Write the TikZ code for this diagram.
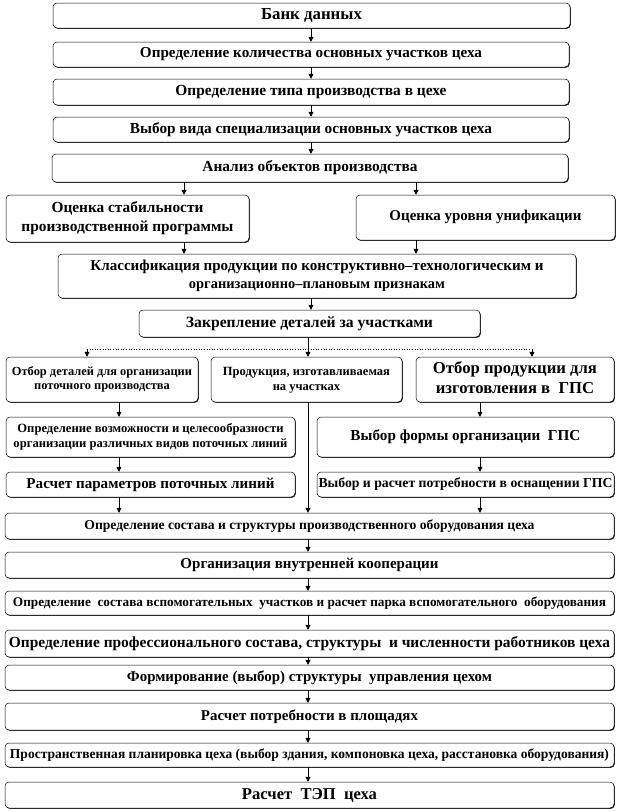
\documentclass[tikz,border=0pt]{standalone}
\usepackage{graphicx}
\usepackage{fontspec}
\setmainfont{Liberation Serif}
\usetikzlibrary{arrows.meta,shadows}
\newcommand{\fw}[3][1]{\scalebox{1}[#1]{\resizebox{#2pt}{!}{#3}}}
\newcommand{\tb}[1]{\begin{tabular}{@{}c@{}}#1\end{tabular}}
\begin{document}
\begin{tikzpicture}[x=1pt,y=-1pt,font=\bfseries,
  box/.style={draw=black,line width=0.5pt,rounded corners=4pt,fill=white,inner sep=0pt,
    drop shadow={shadow xshift=0.8pt,shadow yshift=-0.8pt,fill=black,opacity=0.85}},
  arr/.style={-{Triangle[length=5pt,width=5pt]},line width=0.6pt},
  ln/.style={line width=0.6pt}]
\fill[white] (0,0) rectangle (618,812);
\useasboundingbox (0,0) rectangle (618,812);

% column coordinates
\coordinate (xm) at (311,0);
\coordinate (xa) at (184,0);
\coordinate (xb) at (416,0);
\coordinate (xl) at (119,0);
\coordinate (xr) at (480,0);
\coordinate (xd1) at (87,0);
\coordinate (xd2) at (532,0);
\coordinate (xc) at (308,0);
\coordinate (j) at (308,349);

\node[box,minimum width=517pt,minimum height=25pt] (b1) at (311.5,15.5) {\fw{101}{Банк данных}};
\node[box,minimum width=516pt,minimum height=25pt] (b2) at (311,54.5) {\fw{342}{Определение количества основных участков цеха}};
\node[box,minimum width=516pt,minimum height=26pt] (b3) at (311,92) {\fw{271}{Определение типа производства в цехе}};
\node[box,minimum width=516pt,minimum height=25pt] (b4) at (311,129.5) {\fw{362}{Выбор вида специализации основных участков цеха}};
\node[box,minimum width=516pt,minimum height=28pt] (b5) at (310,168) {\fw{215}{Анализ объектов производства}};
\node[box,minimum width=243pt,minimum height=47pt] (b6) at (127.5,218.5) {\fw{212}{\tb{Оценка стабильности\\производственной программы}}};
\node[box,minimum width=259pt,minimum height=45pt] (b7) at (485.5,217.5) {\raisebox{5pt}{\fw{192}{Оценка уровня унификации}}};
\node[box,minimum width=518pt,minimum height=44pt] (b8) at (317,276) {\tb{\fw{453}{Классификация продукции по конструктивно–технологическим и}\\[6pt]\fw{256}{организационно–плановым признакам}}};
\node[box,minimum width=341pt,minimum height=27pt] (b9) at (309.5,323.5) {\fw{247}{Закрепление деталей за участками}};
\node[box,minimum width=192pt,minimum height=45pt] (b10) at (102,379.5) {\fw{180}{\tb{Отбор деталей для организации\\поточного производства}}};
\node[box,minimum width=191pt,minimum height=45pt] (b11) at (306.5,379.5) {\fw{167}{\tb{Продукция, изготавливаемая\\на участках}}};
\node[box,minimum width=198pt,minimum height=45pt] (b12) at (515,379.5) {\fw{164}{\tb{Отбор продукции для\\изготовления в\ \ ГПС}}};
\node[box,minimum width=289pt,minimum height=40pt] (b13) at (150.5,437) {\fw{274}{\tb{Определение возможности и целесообразности\\организации различных видов поточных линий}}};
\node[box,minimum width=289pt,minimum height=25pt] (b14) at (150.5,484.5) {\fw{248}{Расчет параметров поточных линий}};
\node[box,minimum width=297pt,minimum height=40pt] (b15) at (465.5,437) {\fw{230}{Выбор формы организации\ \ ГПС}};
\node[box,minimum width=297pt,minimum height=25pt] (b16) at (465.5,484.5) {\fw{294}{Выбор и расчет потребности в оснащении ГПС}};
\node[box,minimum width=609pt,minimum height=26pt] (b17) at (309.5,526) {\fw{450}{Определение состава и структуры производственного оборудования цеха}};
\node[box,minimum width=609pt,minimum height=26pt] (b18) at (309.5,565) {\fw{258}{Организация внутренней кооперации}};
\node[box,minimum width=609pt,minimum height=24pt] (b19) at (309.5,603) {\fw{593}{Определение\ \ состава вспомогательных\ \ участков и расчет парка вспомогательного\ \ оборудования}};
\node[box,minimum width=609pt,minimum height=27pt] (b20) at (309.5,643.5) {\fw{601}{Определение профессионального состава, структуры\ \ и численности работников цеха}};
\node[box,minimum width=609pt,minimum height=25pt] (b21) at (309.5,677.5) {\fw{365}{Формирование (выбор) структуры\ \ управления цехом}};
\node[box,minimum width=609pt,minimum height=27pt] (b22) at (309.5,716.5) {\fw{217}{Расчет потребности в площадях}};
\node[box,minimum width=609pt,minimum height=24pt] (b23) at (309.5,755) {\fw{599}{Пространственная планировка цеха (выбор здания, компоновка цеха, расстановка оборудования)}};
\node[box,minimum width=609pt,minimum height=26pt] (b24) at (309.5,795) {\fw{135}{Расчет\ \ ТЭП\ \ цеха}};

% connectors
\draw[arr] (b1.south -| xm) -- (b2.north -| xm);
\draw[arr] (b2.south -| xm) -- (b3.north -| xm);
\draw[arr] (b3.south -| xm) -- (b4.north -| xm);
\draw[arr] (b4.south -| xm) -- (b5.north -| xm);
\draw[arr] (b5.south -| xa) -- (b6.north -| xa);
\draw[arr] (b5.south -| xb) -- (b7.north -| xb);
\draw[arr] (b6.south -| xa) -- (b8.north -| xa);
\draw[arr] (b7.south -| xb) -- (b8.north -| xb);
\draw[arr] (b8.south -| xm) -- (b9.north -| xm);
\draw[ln] (b9.south -| j) -- (j);
\draw[ln,dotted] (j -| xd1) -- (j -| xd2);
\draw[arr] (j -| xd1) -- (b10.north -| xd1);
\draw[arr] (j) -- (b11.north -| j);
\draw[arr] (j -| xd2) -- (b12.north -| xd2);
\draw[arr] (b10.south -| xl) -- (b13.north -| xl);
\draw[arr] (b13.south -| xl) -- (b14.north -| xl);
\draw[arr] (b14.south -| xl) -- (b17.north -| xl);
\draw[arr] (b11.south -| xc) -- (b17.north -| xc);
\draw[arr] (b12.south -| xr) -- (b15.north -| xr);
\draw[arr] (b15.south -| xr) -- (b16.north -| xr);
\draw[arr] (b16.south -| xr) -- (b17.north -| xr);
\draw[arr] (b17.south -| xc) -- (b18.north -| xc);
\draw[arr] (b18.south -| xc) -- (b19.north -| xc);
\draw[arr] (b19.south -| xc) -- (b20.north -| xc);
\draw[arr] (b20.south -| xc) -- (b21.north -| xc);
\draw[arr] (b21.south -| xc) -- (b22.north -| xc);
\draw[arr] (b22.south -| xc) -- (b23.north -| xc);
\draw[arr] (b23.south -| xc) -- (b24.north -| xc);
\end{tikzpicture}
\end{document}
